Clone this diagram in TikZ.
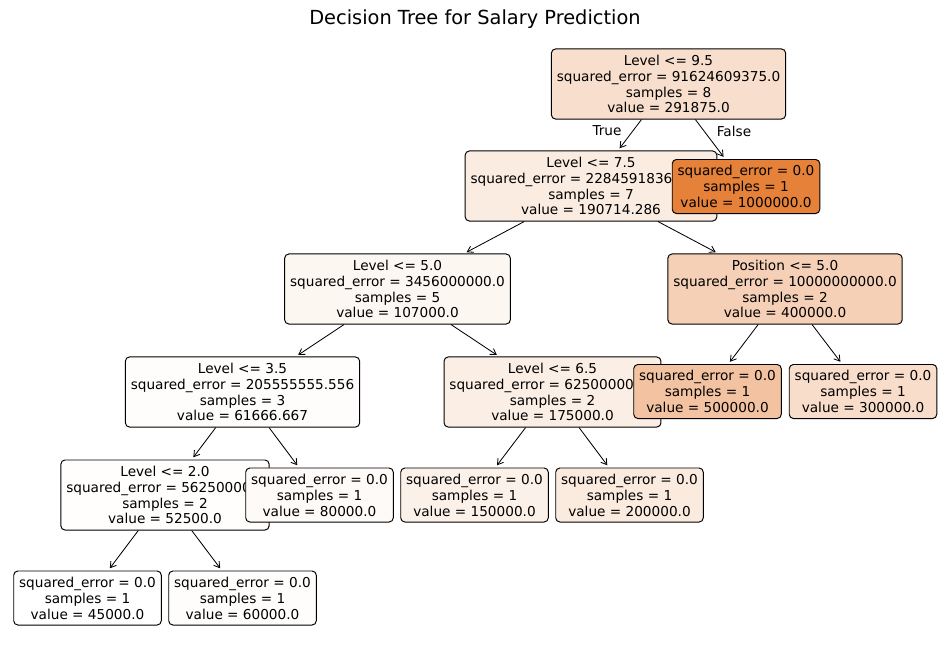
\documentclass[tikz,border=0pt]{standalone}
\usepackage{fontspec}
\setmainfont{DejaVu Sans}
\usetikzlibrary{arrows.meta}
\definecolor{treeorange}{RGB}{229,129,57}

\begin{document}
\begin{tikzpicture}[
    x=0.01in, y=-0.01in,
    font=\fontsize{9.85}{11.5}\selectfont,
    split/.style={draw, rounded corners=3pt, align=center, inner xsep=3.9pt,
                  line width=0.7pt, minimum height=0.7in},
    leaf/.style={draw, rounded corners=3pt, align=center, inner xsep=3.9pt,
                 line width=0.7pt, minimum height=0.54in},
    arr/.style={-{Straight Barb[length=4pt,width=5pt]}, line width=0.6pt, shorten >=2pt}
  ]
  \useasboundingbox (0,0) rectangle (950,659);
  \node[font=\fontsize{14}{16.8}\selectfont] (title) at (475,19.5) {Decision Tree for Salary Prediction};

  % nodes in the order the tree is walked, later ones cover earlier ones
  \node[split, fill=treeorange!26] (n0) at (668.5,84) {Level <= 9.5\\squared\_error = 91624609375.0\\samples = 8\\value = 291875.0};
  \node[split, fill=treeorange!15] (n1) at (591,186) {Level <= 7.5\\squared\_error = 22845918367.347\\samples = 7\\value = 190714.286};
  \node[split, fill=treeorange!6.5] (n2) at (397.5,289) {Level <= 5.0\\squared\_error = 3456000000.0\\samples = 5\\value = 107000.0};
  \node[split, fill=treeorange!1.7] (n3) at (242.5,392) {Level <= 3.5\\squared\_error = 205555555.556\\samples = 3\\value = 61666.667};
  \node[split, fill=treeorange!0.8] (n4) at (165,495) {Level <= 2.0\\squared\_error = 56250000.0\\samples = 2\\value = 52500.0};
  \node[leaf, fill=white] (n5) at (87.5,598) {squared\_error = 0.0\\samples = 1\\value = 45000.0};
  \node[leaf, fill=treeorange!1.6] (n6) at (242.5,598) {squared\_error = 0.0\\samples = 1\\value = 60000.0};
  \node[leaf, fill=treeorange!3.7] (n7) at (319.5,495) {squared\_error = 0.0\\samples = 1\\value = 80000.0};
  \node[split, fill=treeorange!13.6] (n8) at (552.5,392) {Level <= 6.5\\squared\_error = 625000000.0\\samples = 2\\value = 175000.0};
  \node[leaf, fill=treeorange!11] (n9) at (474.5,495) {squared\_error = 0.0\\samples = 1\\value = 150000.0};
  \node[leaf, fill=treeorange!16.2] (n10) at (629.5,495) {squared\_error = 0.0\\samples = 1\\value = 200000.0};
  \node[split, fill=treeorange!37] (n11) at (785,289) {Position <= 5.0\\squared\_error = 10000000000.0\\samples = 2\\value = 400000.0};
  \node[leaf, fill=treeorange!47.6] (n12) at (707.5,391.5) {squared\_error = 0.0\\samples = 1\\value = 500000.0};
  \node[leaf, fill=treeorange!26.7] (n13) at (863,391.5) {squared\_error = 0.0\\samples = 1\\value = 300000.0};
  \node[leaf, fill=treeorange] (n14) at (746,186.5) {squared\_error = 0.0\\samples = 1\\value = 1000000.0};

  \node (truelbl) at (607,131) {True};
  \node (falselbl) at (734,131) {False};

  \draw[arr] (n0) -- (n1);
  \draw[arr] (n0) -- (n14);
  \draw[arr] (n1) -- (n2);
  \draw[arr] (n1) -- (n11);
  \draw[arr] (n2) -- (n3);
  \draw[arr] (n2) -- (n8);
  \draw[arr] (n3) -- (n4);
  \draw[arr] (n3) -- (n7);
  \draw[arr] (n4) -- (n5);
  \draw[arr] (n4) -- (n6);
  \draw[arr] (n8) -- (n9);
  \draw[arr] (n8) -- (n10);
  \draw[arr] (n11) -- (n12);
  \draw[arr] (n11) -- (n13);
\end{tikzpicture}
\end{document}
